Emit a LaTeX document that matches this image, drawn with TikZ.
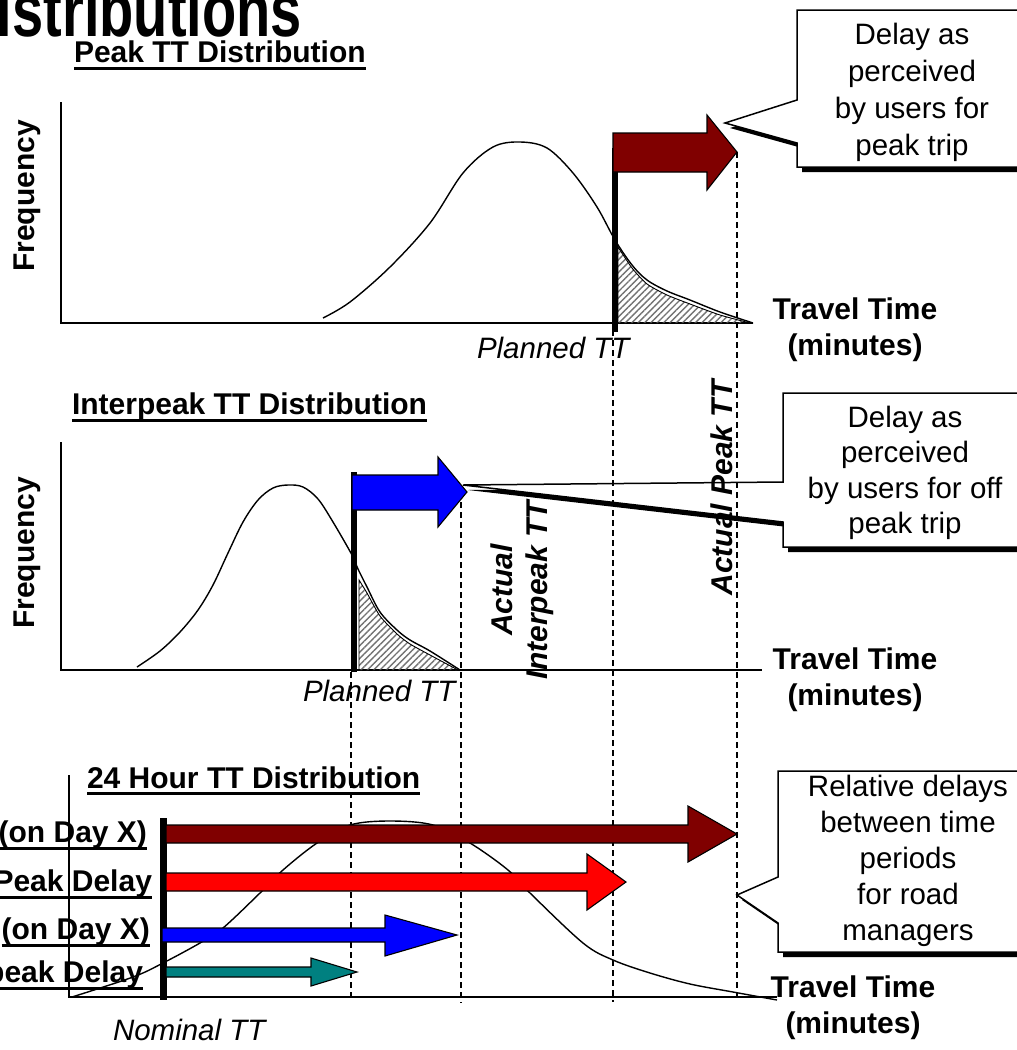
\documentclass[tikz,border=0pt]{standalone}
\usepackage{fontspec}
\usepackage{graphicx}
\setmainfont{Liberation Sans}
\usetikzlibrary{patterns.meta}
\definecolor{peakred}{RGB}{128,0,0}
\definecolor{avgred}{RGB}{255,0,0}
\definecolor{ipblue}{RGB}{0,0,255}
\definecolor{ipteal}{RGB}{0,128,128}
\newcommand{\bkarrow}[9]{%
  \filldraw[arrowbody, fill=#2] (#3,#4) -- (#6,#4) -- (#6,#7) -- (#9) -- (#6,#8) -- (#6,#5) -- (#3,#5) -- cycle;}
\newcommand{\calloutshape}[7]{%
  \fill[black, xshift=5pt, yshift=-5pt] (1040,#2) -- (#1,#2) -- (#1,#4) -- (#5,#6) -- (#1,#7) -- (#1,#3) -- (1040,#3) -- cycle;
  \filldraw[calloutline] (1040,#2) -- (#1,#2) -- (#1,#4) -- (#5,#6) -- (#1,#7) -- (#1,#3) -- (1040,#3);}
\begin{document}
\begin{tikzpicture}[x=1pt,y=-1pt,
  every node/.style={inner sep=0pt, outer sep=0pt},
  reg/.style={font=\fontsize{29.5}{36}\selectfont},
  bld/.style={font=\fontsize{30}{36}\selectfont\bfseries},
  ital/.style={font=\fontsize{29.5}{36}\selectfont\itshape},
  bit/.style={font=\fontsize{30}{35}\selectfont\bfseries\itshape},
  uline/.style={line width=3pt},
  axis/.style={line width=1.8pt},
  curve/.style={line width=1.4pt},
  hatch/.style={pattern={Lines[angle=45,distance=4.5pt,line width=1.4pt]}, pattern color=black!55, draw=black, line width=0.9pt},
  guide/.style={dash pattern=on 6pt off 4pt, line width=1.2pt},
  marker/.style={line width=6.5pt},
  arrowbody/.style={draw=black, line width=1.1pt},
  calloutline/.style={fill=white, draw=black, line width=1.5pt}]
\useasboundingbox (0,0) rectangle (1017,1050);
\fill[white] (0,0) rectangle (1017,1050);

% main title (cut off at the top edge)
\node[anchor=base west, font=\fontsize{56}{60}\selectfont\bfseries] (maintitle) at (-3,36) {\scalebox{1}[1.35]{istributions}};

% ---------------- Panel 1: Peak ----------------
\node[bld, anchor=base west] (t1) at (74,62) {Peak TT Distribution};
\draw[uline] ([yshift=-6pt]t1.base west) -- ([yshift=-6pt]t1.base east);
\draw[axis] (61,102) -- (61,323) -- (753,323);
\node[bld, rotate=90] (f1) at (27,196) {Frequency};
\draw[curve] plot[smooth, tension=0.55] coordinates {(323,318) (350,302) (390,267) (430,223) (463,173) (493,147) (520,142) (547,148) (573,173) (597,207) (615,240) (632,265) (647,280) (667,291) (690,300) (720,312) (753,323)};
\filldraw[hatch] plot[smooth, tension=0.4] coordinates {(618,247) (632,268) (647,284) (667,295) (690,304) (720,315) (750,323)} -- (618,323) -- cycle;
\node[ital, anchor=base west] (pl1) at (477,358) {Planned TT};
\node[bld, align=center] (tt1) at (855,330) {Travel Time\\(minutes)};

% ---------------- Panel 2: Interpeak ----------------
\node[bld, anchor=base west] (t2) at (72,414) {Interpeak TT Distribution};
\draw[uline] ([yshift=-6pt]t2.base west) -- ([yshift=-6pt]t2.base east);
\draw[axis] (61,442) -- (61,670) -- (762,670);
\node[bld, rotate=90] (f2) at (27,553) {Frequency};
\draw[curve] plot[smooth, tension=0.55] coordinates {(137,667) (160,651) (180,632) (198,610) (213,585) (228,553) (243,522) (258,500) (273,488) (288,485) (303,487) (318,499) (333,522) (352,555) (358,569) (367,587) (380,612) (397,630) (410,640) (430,651) (460,670)};
\filldraw[hatch] plot[smooth, tension=0.4] coordinates {(359,580) (367,593) (380,616) (397,634) (410,644) (430,655) (458,670)} -- (359,670) -- cycle;
\node[ital, anchor=base west] (pl2) at (303,701) {Planned TT};
\node[bld, align=center] (tt2) at (855,680) {Travel Time\\(minutes)};

% ---------------- Panel 3: 24 hour ----------------
\node[bld, anchor=base west] (t3) at (87,788) {24 Hour TT Distribution};
\draw[uline] ([yshift=-5pt]t3.base west) -- ([yshift=-5pt]t3.base east);
\draw[axis] (69,775) -- (69,997) -- (777,997);
\draw[curve] plot[smooth, tension=0.55] coordinates {(72,997) (133,977) (163,963) (200,943) (223,928) (260,893) (283,870) (317,843) (350,825) (390,821) (433,825) (470,843) (508,870) (530,893) (583,943) (613,960) (650,973) (690,984) (733,992) (777,1000)};
\node[ital, anchor=base west] (nom) at (113,1040) {Nominal TT};
\node[bld, align=center] (tt3) at (853,1008) {Travel Time\\(minutes)};

\node[bld, anchor=base east] (l1) at (147,842) {(on Day X)};
\draw[uline] ([yshift=-6pt]l1.base west) -- ([yshift=-6pt]l1.base east);
\node[bld, anchor=base east] (l2) at (152,891) {Peak Delay};
\draw[uline] ([yshift=-6pt]l2.base west) -- ([yshift=-6pt]l2.base east);
\node[bld, anchor=base east] (l3) at (150,939) {(on Day X)};
\draw[uline] ([yshift=-6pt]l3.base west) -- ([yshift=-6pt]l3.base east);
\node[bld, anchor=base east] (l4) at (143,982) {peak Delay};
\draw[uline] ([yshift=-6pt]l4.base west) -- ([yshift=-6pt]l4.base east);

% ---------------- Callouts ----------------
\calloutshape{797}{10}{167}{100}{725}{123}{143}
\node[reg, align=center, font=\fontsize{29.5}{37}\selectfont] (c1) at (912,92) {Delay as\\perceived\\by users for\\peak trip};
\calloutshape{783}{393}{547}{482}{463}{485}{522}
\node[reg, align=center, font=\fontsize{29.5}{35.5}\selectfont] (c2) at (905,473) {Delay as\\perceived\\by users for off\\peak trip};
\calloutshape{778}{771}{952}{877}{737}{895}{923}
\node[reg, align=center, font=\fontsize{29.5}{36}\selectfont] (c3) at (908,861) {Relative delays\\between time\\periods\\for road\\managers};

% ---------------- guide lines ----------------
\coordinate (tipP) at (737,152);
\coordinate (tipI) at (461,492);
\coordinate (planP) at (613,330);
\coordinate (planI) at (351,672);
\draw[guide] (tipP) -- (737,1000);
\draw[guide] (tipI) -- (461,1003);
\draw[guide] (planP) -- (613,1002);
\draw[guide] (planI) -- (351,999);

% ---------------- markers and arrows ----------------
\draw[marker] (615,148) -- (615,332);
\bkarrow{aP}{peakred}{613}{133}{172}{707}{115}{190}{737,152}
\draw[marker] (354,472) -- (354,672);
\bkarrow{aI}{ipblue}{352}{475}{510}{438}{457}{527}{467,492}
\draw[marker, line width=7pt] (163,818) -- (163,1000);
\bkarrow{a1}{peakred}{166}{825}{843}{688}{806}{862}{737,834}
\bkarrow{a2}{avgred}{166}{873}{891}{587}{854}{910}{626,882}
\bkarrow{a3}{ipblue}{162}{928}{942}{385}{915}{956}{457,935}
\bkarrow{a4}{ipteal}{166}{967}{977}{311}{958}{986}{357,972}

% ---------------- rotated labels ----------------
\node[bit, rotate=90] (actP) at (722,488) {Actual Peak TT};
\node[bit, rotate=90, align=center] (actI) at (522,590) {Actual\\Interpeak TT};
\end{tikzpicture}
\end{document}
